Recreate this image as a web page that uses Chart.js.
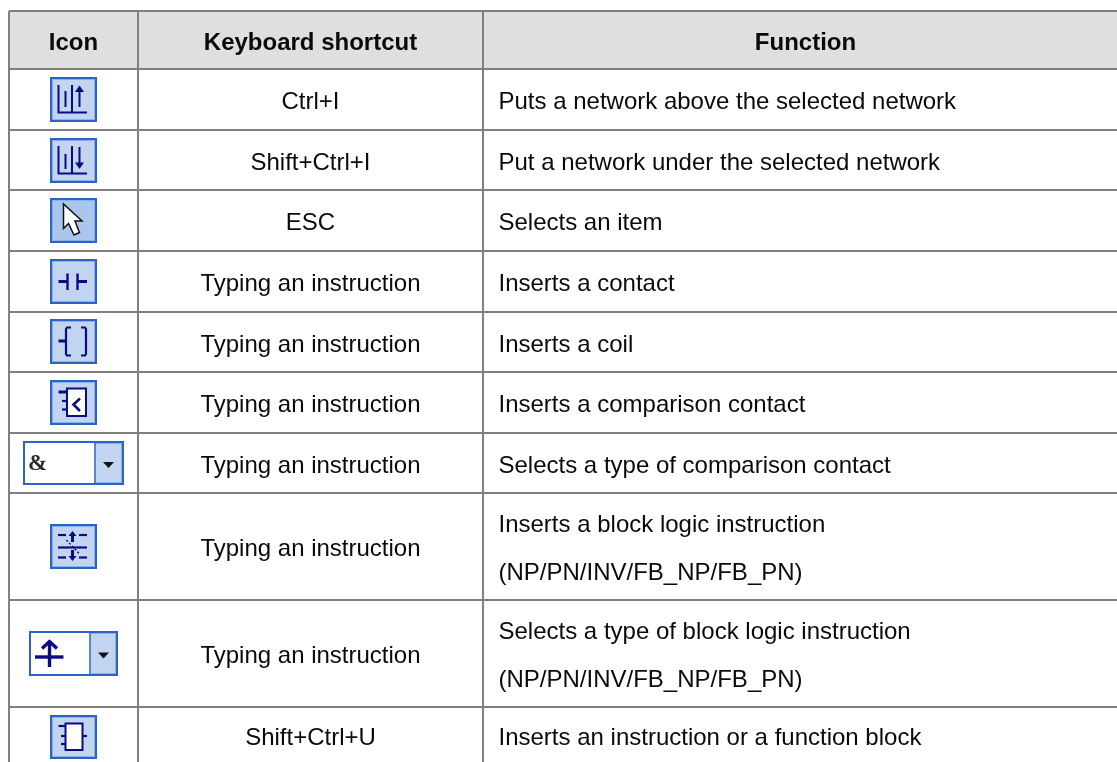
<!DOCTYPE html>
<html>
<head>
<meta charset="utf-8">
<title>Toolbar icons</title>
<script src="https://cdn.jsdelivr.net/npm/chart.js@4/dist/chart.umd.min.js"></script>
<style>
html, body { margin: 0; padding: 0; background: #fff; }
canvas { display: block; }
</style>
</head>
<body>
<canvas id="tabla" width="1117" height="762"></canvas>
<script>
const headers = ['Icon', 'Keyboard shortcut', 'Function'];
const icons = ['above', 'under', 'cursor', 'contact', 'coil', 'compare', 'compareType', 'block', 'blockType', 'fbox'];
const shortcuts = [
    'Ctrl+I', 'Shift+Ctrl+I', 'ESC', 'Typing an instruction', 'Typing an instruction',
    'Typing an instruction', 'Typing an instruction', 'Typing an instruction', 'Typing an instruction', 'Shift+Ctrl+U'
];
const functions = [
    ['Puts a network above the selected network'],
    ['Put a network under the selected network'],
    ['Selects an item'],
    ['Inserts a contact'],
    ['Inserts a coil'],
    ['Inserts a comparison contact'],
    ['Selects a type of comparison contact'],
    ['Inserts a block logic instruction', '(NP/PN/INV/FB_NP/FB_PN)'],
    ['Selects a type of block logic instruction', '(NP/PN/INV/FB_NP/FB_PN)'],
    ['Inserts an instruction or a function block']
];

// table geometry, in scale units (1 unit = 1 px)
const columnEdges = [9, 138, 483];
const rowEdges = [11, 69, 130, 190, 251, 312, 372, 433, 493, 600, 707];
const iconRows = [99.5, 160.5, 220.5, 281.5, 341.5, 402.5, 463, 546.5, 653.5, 737];
const headerCenters = [73.5, 310.5, 805.5];
const tableRight = 1117;
const tableBottom = 764;
const textLeft = 498.5;
const lineGap = 48;
const baselineShift = 9.5;

const NAVY = '#0b0b85';
const FONT = '"Liberation Sans", Arial, sans-serif';
const FONT_SIZE = 24;

function line(c, pts, w) {
    c.lineWidth = w || 2;
    c.strokeStyle = NAVY;
    c.beginPath();
    pts.forEach((p, i) => i ? c.lineTo(p[0], p[1]) : c.moveTo(p[0], p[1]));
    c.stroke();
}

function poly(c, pts, fill) {
    c.fillStyle = fill || NAVY;
    c.beginPath();
    pts.forEach((p, i) => i ? c.lineTo(p[0], p[1]) : c.moveTo(p[0], p[1]));
    c.closePath();
    c.fill();
}

function whiteBox(c, x0, y0, x1, y1) {
    c.fillStyle = '#fff';
    c.fillRect(x0, y0, x1 - x0, y1 - y0);
    c.lineWidth = 2;
    c.strokeStyle = NAVY;
    c.strokeRect(x0, y0, x1 - x0, y1 - y0);
}

function frame(c, w, h, fill) {
    c.fillStyle = '#2b63c7';
    c.fillRect(0, 0, w, h);
    c.fillStyle = '#8fb0e6';
    c.fillRect(2, 2, w - 4, h - 4);
    c.fillStyle = fill || '#c2d5f0';
    c.fillRect(3, 3, w - 6, h - 6);
}

function dropdown(c, w, h, sep) {
    frame(c, w, h);
    c.fillStyle = '#fff';
    c.fillRect(2, 2, sep - 2, h - 4);
    c.fillStyle = '#5585d6';
    c.fillRect(sep, 2, 2, h - 4);
    poly(c, [[sep + 9, h / 2 - 1], [sep + 20, h / 2 - 1], [sep + 14.5, h / 2 + 5]], '#111');
}

const painters = {
    above(c) {
        frame(c, 47, 45);
        line(c, [[8.5, 8], [8.5, 35.5], [37, 35.5]]);
        line(c, [[15.5, 14], [15.5, 30]]);
        line(c, [[22, 8], [22, 35.5]]);
        line(c, [[29.5, 12], [29.5, 30]]);
        poly(c, [[25, 15], [29.5, 8.5], [34, 15]]);
    },
    under(c) {
        frame(c, 47, 45);
        line(c, [[8.5, 8], [8.5, 35.5], [37, 35.5]]);
        line(c, [[15.5, 16], [15.5, 31]]);
        line(c, [[22, 8], [22, 35.5]]);
        line(c, [[29.5, 9], [29.5, 26]]);
        poly(c, [[25, 24.5], [29.5, 31], [34, 24.5]]);
    },
    cursor(c) {
        frame(c, 47, 45, '#a9c6ec');
        c.beginPath();
        [[13.5, 6], [13.5, 30.5], [18.5, 25.5], [24, 37], [29.5, 34.5], [25, 23], [32, 23]]
            .forEach((p, i) => i ? c.lineTo(p[0], p[1]) : c.moveTo(p[0], p[1]));
        c.closePath();
        c.fillStyle = '#fff';
        c.fill();
        c.lineWidth = 1.5;
        c.strokeStyle = '#111';
        c.stroke();
    },
    contact(c) {
        frame(c, 47, 45);
        line(c, [[8.5, 22.5], [18, 22.5]], 3);
        line(c, [[17.5, 14.5], [17.5, 31]], 2.4);
        line(c, [[27.5, 14.5], [27.5, 31]], 2.4);
        line(c, [[27.5, 22.5], [37, 22.5]], 3);
    },
    coil(c) {
        frame(c, 47, 45);
        line(c, [[8.5, 22], [16, 22]], 3);
        line(c, [[21, 8.5], [17, 8.5], [16, 10], [16, 35], [17, 36.5], [21, 36.5]], 2.2);
        line(c, [[31, 8.5], [35, 8.5], [36, 10], [36, 35], [35, 36.5], [31, 36.5]], 2.2);
    },
    compare(c) {
        frame(c, 47, 45);
        whiteBox(c, 17, 8.5, 36, 36);
        line(c, [[8.5, 12], [17, 12]], 3);
        line(c, [[12, 21], [17, 21]], 2.2);
        line(c, [[12, 29.5], [17, 29.5]], 2.2);
        line(c, [[30, 18.5], [23.5, 24.5], [30, 31]], 2.6);
    },
    compareType(c) {
        dropdown(c, 101, 44, 71);
        c.fillStyle = '#33281f';
        c.font = 'bold 23px "Liberation Serif", serif';
        c.textBaseline = 'alphabetic';
        c.fillText('&', 5, 29);
    },
    block(c) {
        frame(c, 47, 45);
        line(c, [[8, 11], [16, 11]], 2.2);
        line(c, [[29, 11], [37, 11]], 2.2);
        line(c, [[8, 23.5], [37, 23.5]], 2.2);
        line(c, [[8, 33.5], [16, 33.5]], 2.2);
        line(c, [[29, 33.5], [37, 33.5]], 2.2);
        line(c, [[22.5, 10], [22.5, 18]], 3);
        poly(c, [[18.5, 12], [22.5, 7], [26.5, 12]]);
        line(c, [[22.5, 26], [22.5, 34]], 3);
        poly(c, [[18.5, 32], [22.5, 37], [26.5, 32]]);
        c.setLineDash([2, 2]);
        line(c, [[16.5, 16], [30, 30.5]], 1.4);
        c.setLineDash([]);
    },
    blockType(c) {
        dropdown(c, 89, 45, 60);
        line(c, [[6, 26], [34.5, 26]], 3.4);
        line(c, [[20.5, 10], [20.5, 36]], 3.4);
        line(c, [[13, 17.5], [20.5, 10.5], [28, 17.5]], 3.4);
    },
    fbox(c) {
        frame(c, 47, 44);
        whiteBox(c, 15.5, 8.5, 32.5, 35);
        line(c, [[8.5, 11], [15.5, 11]], 2.2);
        line(c, [[11, 21], [15.5, 21]], 2.2);
        line(c, [[11, 29], [15.5, 29]], 2.2);
        line(c, [[32.5, 21], [37, 21]], 2.2);
    }
};
const iconSizes = {
    compareType: [101, 44],
    blockType: [89, 45],
    fbox: [47, 44]
};

function makeIcon(name) {
    const size = iconSizes[name] || [47, 45];
    const cv = document.createElement('canvas');
    cv.width = size[0];
    cv.height = size[1];
    painters[name](cv.getContext('2d'));
    return cv;
}

function rowCenter(i) {
    const bottom = i + 2 < rowEdges.length ? rowEdges[i + 2] : tableBottom;
    return (rowEdges[i + 1] + bottom) / 2;
}

const iconCanvases = icons.map(makeIcon);
const iconPoints = iconRows.map(v => ({ x: headerCenters[0], y: v }));

const tablePlugin = {
    id: 'tablePlugin',
    beforeDraw(chart) {
        const { ctx, scales: { x, y } } = chart;
        ctx.save();
        ctx.fillStyle = '#fff';
        ctx.fillRect(0, 0, chart.width, chart.height);
        ctx.fillStyle = '#dfdfdf';
        ctx.fillRect(x.getPixelForValue(columnEdges[0]), y.getPixelForValue(rowEdges[0]),
            x.getPixelForValue(tableRight) - x.getPixelForValue(columnEdges[0]),
            y.getPixelForValue(rowEdges[1]) - y.getPixelForValue(rowEdges[0]));
        ctx.restore();
    },
    afterDatasetsDraw(chart) {
        const { ctx, scales: { x, y } } = chart;
        ctx.save();
        ctx.textBaseline = 'alphabetic';
        ctx.fillStyle = '#0a0a0a';
        ctx.textAlign = 'center';
        ctx.font = 'bold ' + FONT_SIZE + 'px ' + FONT;
        headers.forEach((h, i) => {
            ctx.fillText(h, x.getPixelForValue(headerCenters[i]), y.getPixelForValue((rowEdges[0] + rowEdges[1]) / 2 + baselineShift));
        });
        ctx.font = FONT_SIZE + 'px ' + FONT;
        shortcuts.forEach((s, i) => {
            ctx.fillText(s, x.getPixelForValue(headerCenters[1]), y.getPixelForValue(rowCenter(i) + baselineShift));
        });
        ctx.textAlign = 'left';
        functions.forEach((lines, i) => {
            const first = rowCenter(i) + baselineShift - (lines.length - 1) * lineGap / 2;
            lines.forEach((t, j) => {
                ctx.fillText(t, x.getPixelForValue(textLeft), y.getPixelForValue(first + j * lineGap));
            });
        });
        ctx.restore();
    }
};

new Chart(document.getElementById('tabla'), {
    type: 'scatter',
    data: {
        datasets: [{
            data: iconPoints,
            pointStyle: iconCanvases,
            pointRadius: 10,
            showLine: false,
            clip: false
        }]
    },
    plugins: [tablePlugin],
    options: {
        responsive: false,
        animation: false,
        layout: { autoPadding: false, padding: { left: 9, top: 11, right: 0, bottom: 0 } },
        plugins: { legend: { display: false }, tooltip: { enabled: false } },
        scales: {
            x: {
                type: 'linear',
                min: columnEdges[0],
                max: tableRight,
                afterBuildTicks: axis => { axis.ticks = columnEdges.map(v => ({ value: v })); },
                ticks: { display: false },
                border: { display: false },
                grid: { color: '#808080', lineWidth: 2, drawTicks: false }
            },
            y: {
                type: 'linear',
                reverse: true,
                min: rowEdges[0],
                max: 762,
                afterBuildTicks: axis => { axis.ticks = rowEdges.map(v => ({ value: v })); },
                ticks: { display: false },
                border: { display: false },
                grid: { color: '#808080', lineWidth: 2, drawTicks: false }
            }
        }
    }
});
</script>
</body>
</html>
